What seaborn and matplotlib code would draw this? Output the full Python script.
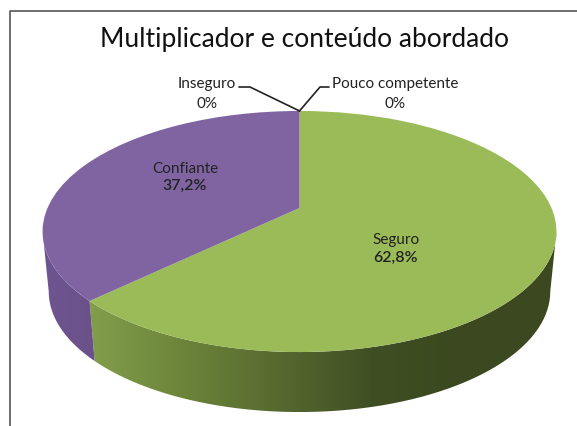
import numpy as np
import pandas as pd
import matplotlib
matplotlib.use('Agg')
import matplotlib.pyplot as plt
import matplotlib.transforms as mtransforms
from matplotlib.colors import LinearSegmentedColormap
from matplotlib.patches import PathPatch
from matplotlib.path import Path
import seaborn as sns

# --- data ---
categorias = ['Seguro', 'Confiante', 'Inseguro', 'Pouco competente']
valores = [62.8, 37.2, 0, 0]
cores = ['#9BBB59', '#8064A2', '#4F81BD', '#C0504D']
titulo = 'Multiplicador e conteúdo abordado'

df = pd.DataFrame({'categoria': categorias, 'valor': valores})

sns.set_theme(style='white')
plt.rcParams['font.family'] = ['Lato', 'DejaVu Sans']

k = 0.195


# excel style perspective: unit pie -> image pixels
class Perspectiva(mtransforms.Transform):
    input_dims = 2
    output_dims = 2

    def __init__(self, dy=0.0, escala=1.0):
        super().__init__()
        self.dy = dy
        self.escala = escala

    def transform_non_affine(self, v):
        v = np.asarray(v, dtype=float)
        w = 1 + k * v[:, 1]
        x = 299.5 + self.escala * 252 * v[:, 0] / w
        y = (208 - 75.4 * v[:, 1]) / w + self.dy
        return np.column_stack([x, y])


topo = Perspectiva()
base = Perspectiva(dy=60, escala=0.976)

fig = plt.figure(figsize=(5.77, 4.26), dpi=100)
ax = fig.add_axes([0, 0, 1, 1])

wedges, _ = ax.pie(df['valor'], colors=cores, startangle=90, counterclock=False,
                   wedgeprops={'linewidth': 0})
for w in wedges:
    w.set_transform(topo + ax.transData)
    w.set_zorder(3)

ax.set_aspect('auto')
ax.set_xlim(0, 577)
ax.set_ylim(426, 0)
ax.set_axis_off()

# --- side wall, gradient clipped to each slice ---
paredes = {
    'Seguro': ['#829E4C', '#6C8439', '#566A30', '#404F23', '#3B4820', '#3B4820'],
    'Confiante': ['#6F5591', '#6B5189'],
}
# rim is visible between the two widest points of the disc
tangente = np.degrees(np.arcsin(k))
for w, nome in zip(wedges, df['categoria']):
    if nome not in paredes:
        continue
    lim1, lim2 = max(w.theta1, -180 + tangente), min(w.theta2, -tangente)
    th = np.radians(np.linspace(lim1, lim2, 120))
    aro = np.column_stack([np.cos(th), np.sin(th)])
    contorno = np.vstack([topo.transform(aro), base.transform(aro)[::-1]])
    clip = PathPatch(Path(contorno), transform=ax.transData, facecolor='none', linewidth=0)
    ax.add_patch(clip)
    cmap = LinearSegmentedColormap.from_list(nome, paredes[nome])
    x0, x1 = contorno[:, 0].min(), contorno[:, 0].max()
    y0, y1 = contorno[:, 1].min(), contorno[:, 1].max()
    im = ax.imshow(np.linspace(0, 1, 256)[None, :], cmap=cmap, aspect='auto',
                   extent=(x0, x1, y1, y0), zorder=2)
    im.set_clip_path(clip)

ax.set_xlim(0, 577)
ax.set_ylim(426, 0)

# --- labels ---
def rotulo(v):
    return f'{v:.1f}'.replace('.', ',') + '%' if v > 0 else '0%'


txt = '#222222'
ax.text(396, 240, df['categoria'][0], ha='center', va='center', fontsize=11, color=txt, zorder=5)
ax.text(396, 258, rotulo(valores[0]), ha='center', va='center', fontsize=11.5, color=txt,
        fontweight='semibold', zorder=5)
ax.text(185, 169, df['categoria'][1], ha='center', va='center', fontsize=11, color=txt, zorder=5)
ax.text(185, 186, rotulo(valores[1]), ha='center', va='center', fontsize=11.5, color=txt,
        fontweight='semibold', zorder=5)
ax.text(207, 84, df['categoria'][2], ha='center', va='center', fontsize=11, color=txt, zorder=5)
ax.text(207, 104, rotulo(valores[2]), ha='center', va='center', fontsize=11, color=txt, zorder=5)
ax.text(395, 84, df['categoria'][3], ha='center', va='center', fontsize=11, color=txt, zorder=5)
ax.text(395, 104, rotulo(valores[3]), ha='center', va='center', fontsize=11, color=txt, zorder=5)

# leader lines to the top of the pie
px, py = topo.transform(np.array([[0.0, 1.0]]))[0]
ax.plot([239, 250, px], [87, 87, py], color='#222222', lw=1.2, zorder=4)
ax.plot([329, 320, px], [87, 87, py], color='#222222', lw=1.2, zorder=4)

ax.text(304, 40, titulo, ha='center', va='center', fontsize=19, color='#111111', zorder=5)

# frame cut by the crop: only left and top sides
ax.plot([10, 10, 577], [426, 11, 11], color='#555555', lw=1.2, zorder=1)

fig.savefig('out.png', dpi=100)
